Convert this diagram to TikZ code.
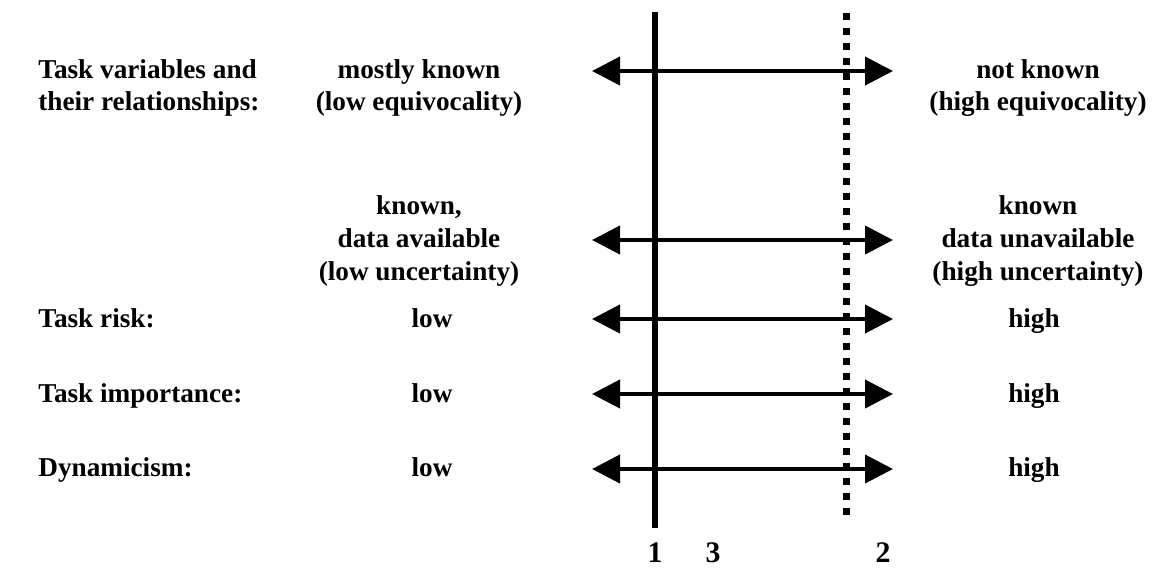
\documentclass[tikz,border=0pt]{standalone}
\usepackage{fontspec}
\setmainfont{Liberation Serif}
\usetikzlibrary{arrows.meta,positioning}
\tikzset{
    scalearrow/.style = {<->, >={Triangle[length=0.56cm, width=0.56cm]}, line width=0.08cm, draw=black},
    txt/.style        = {inner sep=0pt, font=\fontsize{15.5}{18.2}\selectfont\bfseries, align=center},
    word/.style       = {txt, anchor=base},
    rowname/.style    = {txt, anchor=base west, align=left},
    numtxt/.style     = {word, font=\fontsize{17}{19}\selectfont\bfseries}
}

\begin{document}
\begin{tikzpicture}[
        x=0.02cm, y=-0.02cm,
        solidline/.style = {line width=0.11cm, draw=black},
        dotline/.style   = {line width=0.14cm, draw=black, dash pattern=on 0.14cm off 0.16cm}
    ]
        \useasboundingbox (0,0) rectangle (1153,569);

        % Row names (left column)
        \node[rowname] (var)   at (38, 78)  {Task variables and};
        \node[rowname] (var2)  at (38, 110) {their relationships:};
        \node[rowname] (risk)  at (38, 327) {Task risk:};
        \node[rowname] (imp)   at (38, 402) {Task importance:};
        \node[rowname] (dyn)   at (38, 476) {Dynamicism:};

        % Low ends (middle column)
        \node[txt] (varlow)  at (419, 88)  {mostly known\\(low equivocality)};
        \node[txt] (datalow) at (419, 241) {known,\\[0.6pt]data available\\[0.6pt](low uncertainty)};
        \node[word] (risklow) at (432, 327) {low};
        \node[word] (implow)  at (432, 402) {low};
        \node[word] (dynlow)  at (432, 476) {low};

        % High ends (right column)
        \node[txt] (varhigh)  at (1038, 88)  {not known\\(high equivocality)};
        \node[txt] (datahigh) at (1038, 241) {known\\[0.6pt]data unavailable\\[0.6pt](high uncertainty)};
        \node[word] (riskhigh) at (1034, 327) {high};
        \node[word] (imphigh)  at (1034, 402) {high};
        \node[word] (dynhigh)  at (1034, 476) {high};

        % Arrow ends
        \foreach \n/\y in {var/71, data/240, risk/319, imp/394, dyn/469} {
            \coordinate (\n L) at (592, \y);
            \coordinate (\n R) at (893, \y);
        }

        % Scales
        \foreach \n in {var, data, risk, imp, dyn}
            \draw[scalearrow] (\n L) -- (\n R);

        % Position lines
        \coordinate (oneT) at (655, 12);
        \coordinate (oneB) at (655, 528);
        \coordinate (twoT) at (846, 13);
        \coordinate (twoB) at (846, 522);
        \draw[solidline] (oneT) -- (oneB);
        \draw[dotline] (twoT) -- (twoB);

        % Line numbers
        \node[numtxt] (one)   at (655, 562) {1};
        \node[numtxt] (three) at (713, 562) {3};
        \node[numtxt] (two)   at (883, 562) {2};

    \end{tikzpicture}
\end{document}
